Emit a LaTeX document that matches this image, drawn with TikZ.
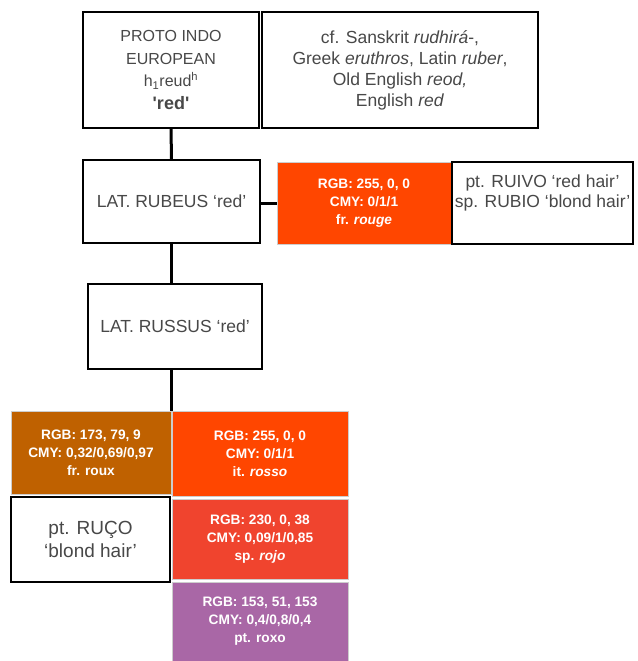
\documentclass[tikz,border=0pt]{standalone}
\usepackage{fontspec}
\setmainfont{Liberation Sans}
\usepackage{tikz}
\usetikzlibrary{calc}
\definecolor{txtgrey}{RGB}{72,72,72}
\definecolor{rouxbrown}{RGB}{191,97,0}
\definecolor{rougered}{RGB}{255,70,0}
\definecolor{rojored}{RGB}{240,68,46}
\definecolor{roxopurple}{RGB}{169,103,166}
\definecolor{paleedge}{RGB}{205,205,205}

\begin{document}
\begin{tikzpicture}[x=1pt, y=-1pt,
    wordbox/.style={draw=black, line width=1.4pt, fill=white, text=txtgrey, align=center, inner sep=0pt,
        font=\fontsize{17.5}{21}\selectfont},
    colourbox/.style={draw=paleedge, line width=0.8pt, text=white, align=center, inner sep=0pt,
        font=\fontsize{13.7}{18}\selectfont\bfseries},
    link/.style={line width=3pt}]
    \useasboundingbox (0, 0) rectangle (637, 661);

    \node[wordbox, font=\fontsize{16}{22.5}\selectfont, minimum width=176, minimum height=116](pie) at (171, 70)
        {PROTO INDO\\ EUROPEAN\\ h\textsubscript{1}reud\textsuperscript{h}\\ {\fontsize{18}{22.5}\selectfont\textbf{\textquotesingle red\textquotesingle}}};
    \node[wordbox, minimum width=276, minimum height=116](cf) at (400, 70)
        {cf. Sanskrit \textit{rudhirá}-,\\ Greek \textit{eruthros}, Latin \textit{ruber},\\ Old English \textit{reod,}\\ English \textit{red}};

    \node[wordbox, minimum width=177, minimum height=83](rubeus) at (171.5, 201.5) {LAT. RUBEUS ‘red’};
    \node[colourbox, fill=rougered, minimum width=174, minimum height=82](rouge) at (364, 203)
        {RGB: 255, 0, 0\\ CMY: 0/1/1\\ fr. \textit{rouge}};
    \node[wordbox, font=\fontsize{17.5}{20}\selectfont, minimum width=181, minimum height=82](ruivo) at (542.5, 203)
        {pt. RUIVO ‘red hair’\\ sp. RUBIO ‘blond hair’\\[-3pt] \strut};

    \node[wordbox, minimum width=174, minimum height=85](russus) at (175, 326.5) {LAT. RUSSUS ‘red’};

    \node[colourbox, fill=rouxbrown, minimum width=160, minimum height=83](roux) at (91, 452.5)
        {RGB: 173, 79, 9\\ CMY: 0,32/0,69/0,97\\ fr. roux};
    \node[colourbox, fill=rougered, minimum width=176, minimum height=85](rosso) at (260, 453.5)
        {RGB: 255, 0, 0\\ CMY: 0/1/1\\ it. \textit{rosso}};
    \node[wordbox, font=\fontsize{19}{23}\selectfont, minimum width=159, minimum height=85](ruco) at (90.5, 539.5)
        {pt. RUÇO\\ ‘blond hair’};
    \node[colourbox, fill=rojored, minimum width=176, minimum height=80](rojo) at (260, 539)
        {RGB: 230, 0, 38\\ CMY: 0,09/1/0,85\\ sp. \textit{rojo}};
    \node[colourbox, fill=roxopurple, minimum width=176, minimum height=79](roxo) at (260, 621.5)
        {RGB: 153, 51, 153\\ CMY: 0,4/0,8/0,4\\ pt. roxo};

    \draw[link] (pie.south) to (rubeus.north);
    \draw[link] (rouge.west -| rubeus.east) to (rouge.west);
    \draw[link] (rubeus.south) to (rubeus.south |- russus.north);
    \draw[link] (roux.north east |- russus.south) to (roux.north east);
\end{tikzpicture}
\end{document}
